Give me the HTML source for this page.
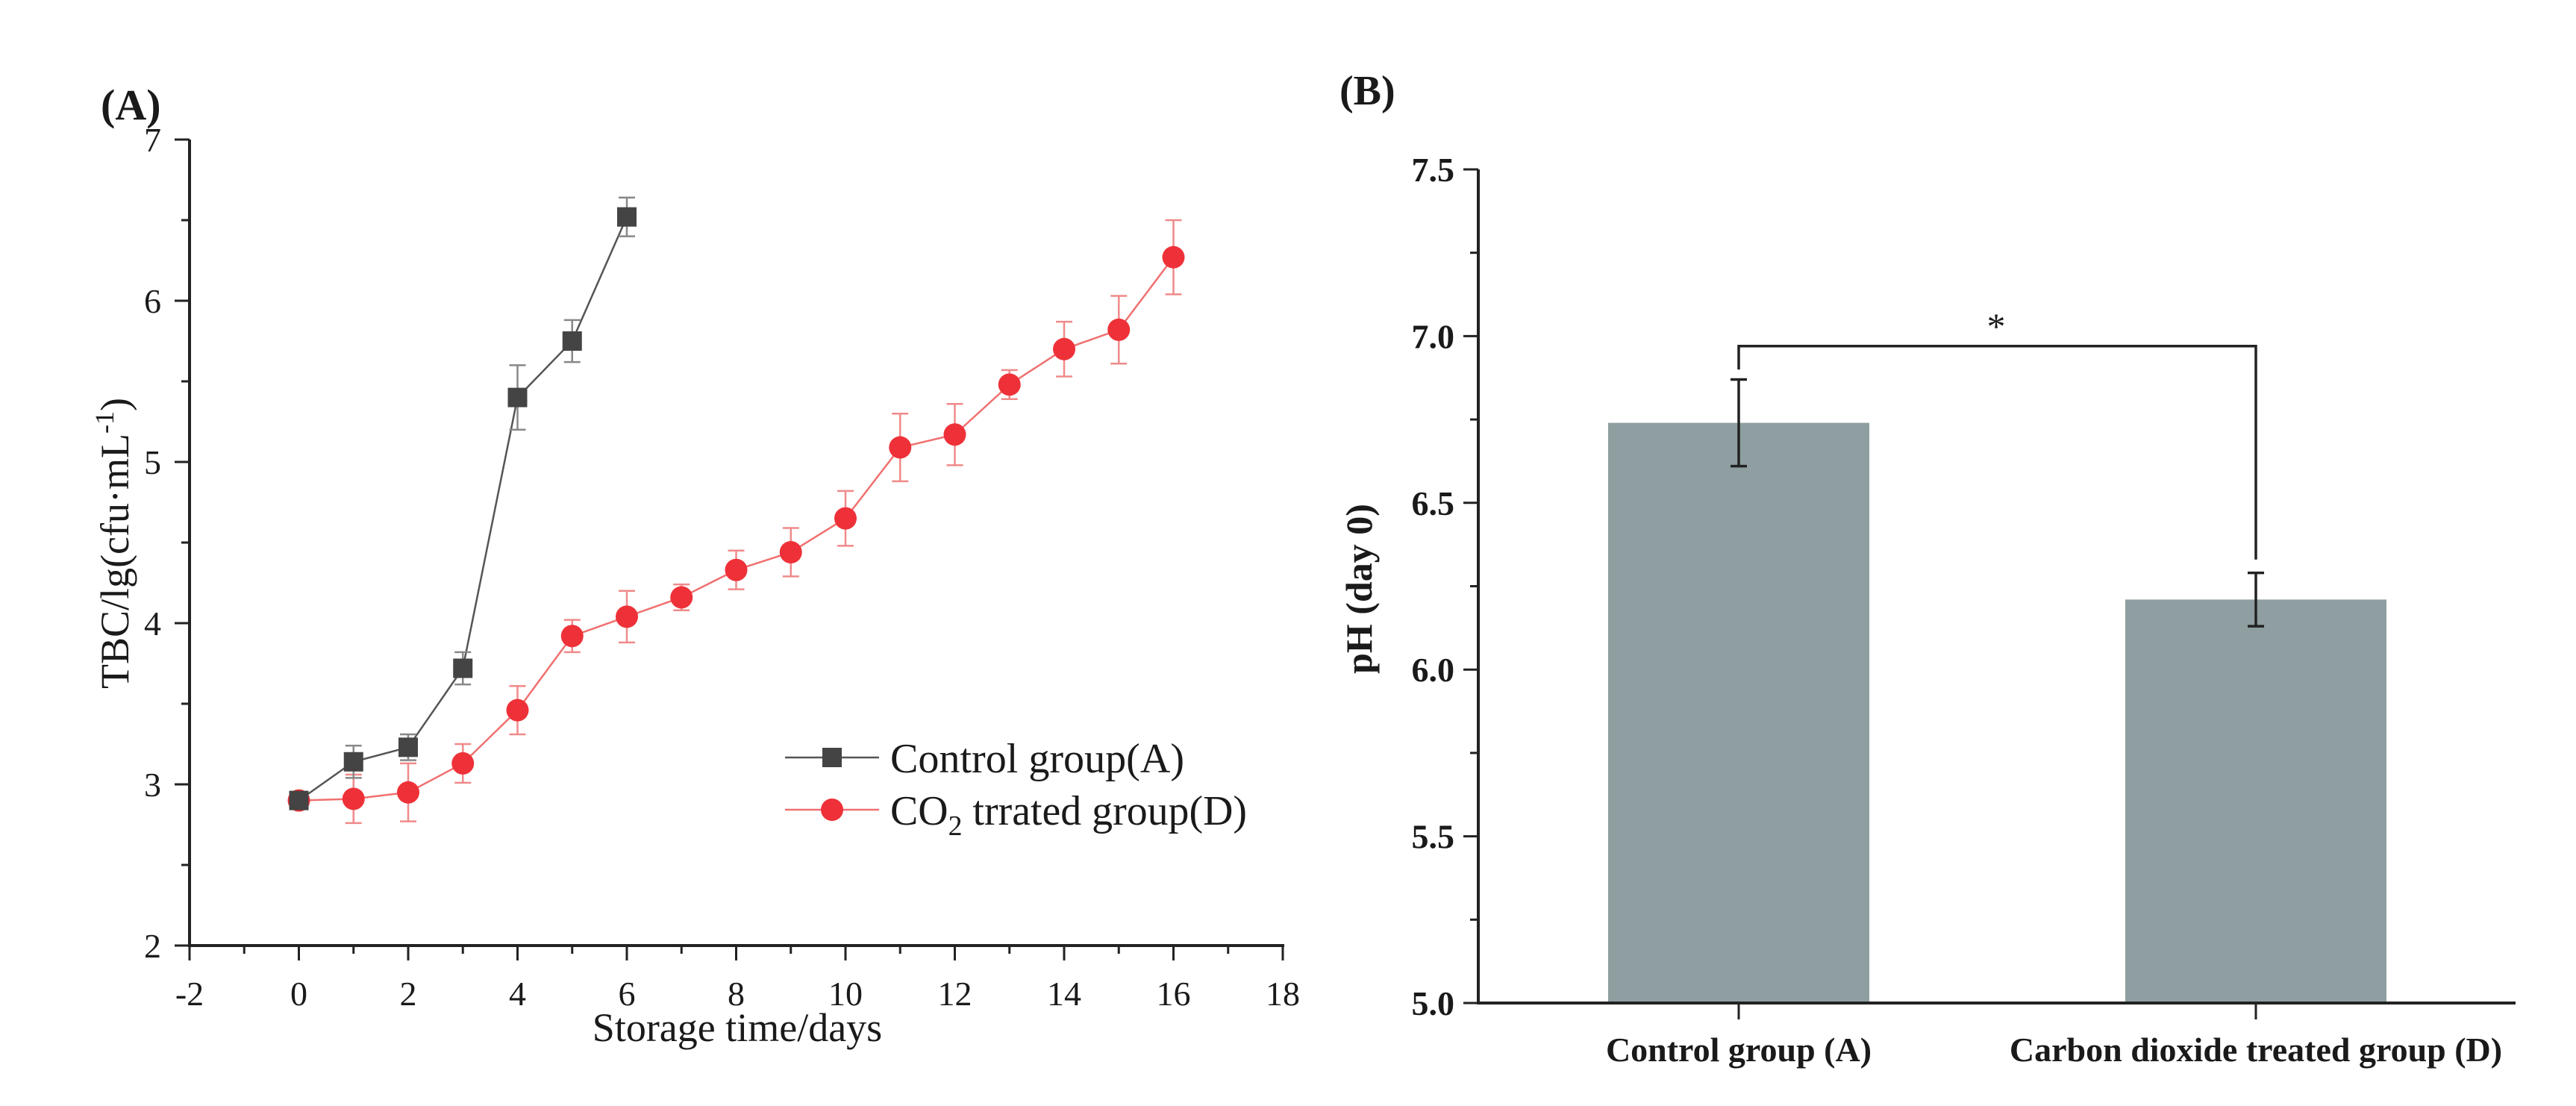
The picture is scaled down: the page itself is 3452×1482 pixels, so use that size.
<!DOCTYPE html>
<html><head><meta charset="utf-8">
<style>
html,body{margin:0;padding:0;background:#fff;}
svg{display:block;}
text{font-family:"Liberation Serif",serif;fill:#1a1a1a;}
</style></head>
<body>
<svg id="fig" width="3452" height="1482" viewBox="0 0 3452 1482" xmlns="http://www.w3.org/2000/svg">
<rect x="0" y="0" width="3452" height="1482" fill="#fff"/>
<g id="panelA"></g>
<g id="panelB"></g>
</svg>
<script>
// ---- Panel A data ----
const daysControl = [0,1,2,3,4,5,6];
const tbcControl = [2.9,3.14,3.23,3.72,5.4,5.75,6.52];
const errControl = [0.03,0.1,0.08,0.1,0.2,0.13,0.12];
const daysCO2 = [0,1,2,3,4,5,6,7,8,9,10,11,12,13,14,15,16];
const tbcCO2 = [2.9,2.91,2.95,3.13,3.46,3.92,4.04,4.16,4.33,4.44,4.65,5.09,5.17,5.48,5.70,5.82,6.27];
const errCO2 = [0.03,0.15,0.18,0.12,0.15,0.1,0.16,0.08,0.12,0.15,0.17,0.21,0.19,0.09,0.17,0.21,0.23];
const xTicksA = [-2,0,2,4,6,8,10,12,14,16,18];
const yTicksA = [2,3,4,5,6,7];
// ---- Panel B data ----
const groupsB = ["Control group (A)","Carbon dioxide treated group (D)"];
const phValues = [6.74,6.21];
const phErrors = [0.13,0.08];
const yTicksB = ["5.0","5.5","6.0","6.5","7.0","7.5"];

const NS="http://www.w3.org/2000/svg";
function mk(parent,tag,attrs,txt){const e=document.createElementNS(NS,tag);for(const k in attrs)e.setAttribute(k,attrs[k]);if(txt!==undefined)e.textContent=txt;parent.appendChild(e);return e;}

// ===== Panel A =====
const A=document.getElementById('panelA');
const ax0=254, ax1=1719, ay0=1267, ay1=187;
const xA=v=>ax0+(v-(-2))/20*(ax1-ax0);
const yA=v=>ay0-(v-2)/5*(ay0-ay1);
let e;
e=mk(A,'text',{x:135,y:160,'font-size':58,'font-weight':'bold','text-anchor':'start'},'(A)');


e=mk(A,'line',{x1:ax0,y1:ay0,x2:ax0,y2:ay1,stroke:'#222','stroke-width':4});


e=mk(A,'line',{x1:ax0-2,y1:ay0,x2:ax1+2,y2:ay0,stroke:'#222','stroke-width':4});


for(let v=-2;v<=18;v++){const maj=(v%2===0);mk(A,'line',{x1:xA(v),y1:ay0,x2:xA(v),y2:ay0+(maj?20:11),stroke:'#222','stroke-width':3});}
xTicksA.forEach(v=>{e=mk(A,'text',{x:xA(v),y:ay0+80,'font-size':46,'text-anchor':'middle'},String(v));

});
for(let v=2;v<=7.001;v+=0.5){const maj=Math.abs(v-Math.round(v))<0.01;mk(A,'line',{x1:ax0,y1:yA(v),x2:ax0-(maj?20:11),y2:yA(v),stroke:'#222','stroke-width':3});}
yTicksA.forEach(v=>{e=mk(A,'text',{x:ax0-38,y:yA(v)+16,'font-size':46,'text-anchor':'end'},String(v));

});
e=mk(A,'text',{x:988,y:1395,'font-size':54,'text-anchor':'middle'},'Storage time/days');


e=mk(A,'text',{x:0,y:0,'font-size':54,'text-anchor':'middle',transform:'translate(172,728) rotate(-90)'});


e.innerHTML='TBC/lg(cfu·mL<tspan dy="-20" font-size="36">-1</tspan><tspan dy="20">)</tspan>';

function series(xs,ys,es,lineCol,errCol,fill,shape,name){
  const g=mk(A,'g',{});
  
  
  const pts=xs.map((x,i)=>xA(x)+','+yA(ys[i])).join(' ');
  mk(g,'polyline',{points:pts,fill:'none',stroke:lineCol,'stroke-width':2.5});
  xs.forEach((x,i)=>{const cx=xA(x),t=yA(ys[i]+es[i]),b=yA(ys[i]-es[i]);
    mk(g,'path',{d:`M${cx},${t}V${b}M${cx-11},${t}H${cx+11}M${cx-11},${b}H${cx+11}`,stroke:errCol,'stroke-width':2.5,fill:'none'});});
  xs.forEach((x,i)=>{const cx=xA(x),cy=yA(ys[i]);let m;
    if(shape==='sq')m=mk(g,'rect',{x:cx-13,y:cy-13,width:26,height:26,fill:fill});
    else m=mk(g,'circle',{cx:cx,cy:cy,r:15,fill:fill});
    
    });
}
series(daysCO2,tbcCO2,errCO2,'#f07070','#f08a8a','#ee3138','ci','co2-series');
series(daysControl,tbcControl,errControl,'#555','#888','#444','sq','control-series');

// legend
const L=mk(A,'g',{});


mk(L,'line',{x1:1052,y1:1015,x2:1178,y2:1015,stroke:'#555','stroke-width':2.5});
mk(L,'rect',{x:1102,y:1002,width:26,height:26,fill:'#444'});
e=mk(L,'text',{x:1193,y:1035,'font-size':56,textLength:394,lengthAdjust:'spacingAndGlyphs'},'Control group(A)');


mk(L,'line',{x1:1052,y1:1085,x2:1178,y2:1085,stroke:'#f07070','stroke-width':2.5});
mk(L,'circle',{cx:1115,cy:1085,r:15,fill:'#ee3138'});
e=mk(L,'text',{x:1193,y:1105,'font-size':56,textLength:478,lengthAdjust:'spacingAndGlyphs'});


e.innerHTML='CO<tspan dy="14" font-size="38">2</tspan><tspan dy="-14"> trrated group(D)</tspan>';

// ===== Panel B =====
const B=document.getElementById('panelB');
const bx0=1981, bx1=3371, by0=1344, by1=227;
const yB=v=>by0-(v-5)/2.5*(by0-by1);
const centers=[2330,3023];
const bw=350;
e=mk(B,'text',{x:1795,y:140,'font-size':56,'font-weight':'bold'},'(B)');


phValues.forEach((v,i)=>{const r=mk(B,'rect',{x:centers[i]-bw/2,y:yB(v),width:bw,height:by0-yB(v),fill:'#8f9ea0'});


const t=yB(v+phErrors[i]),b=yB(v-phErrors[i]),cx=centers[i];
const eb=mk(B,'path',{d:`M${cx},${t}V${b}M${cx-11},${t}H${cx+11}M${cx-11},${b}H${cx+11}`,stroke:'#222','stroke-width':3.5,fill:'none'});

});
e=mk(B,'line',{x1:bx0,y1:by0,x2:bx0,y2:by1,stroke:'#222','stroke-width':4});


e=mk(B,'line',{x1:bx0-2,y1:by0,x2:bx1,y2:by0,stroke:'#222','stroke-width':4});


for(let k=0;k<=10;k++){const v=5+k*0.25,maj=k%2===0;mk(B,'line',{x1:bx0,y1:yB(v),x2:bx0-(maj?20:11),y2:yB(v),stroke:'#222','stroke-width':3});}
yTicksB.forEach(s=>{e=mk(B,'text',{x:bx0-32,y:yB(parseFloat(s))+16,'font-size':46,'font-weight':'bold','text-anchor':'end'},s);

});
groupsB.forEach((s,i)=>{mk(B,'line',{x1:centers[i],y1:by0,x2:centers[i],y2:by0+22,stroke:'#222','stroke-width':3});
e=mk(B,'text',{x:centers[i],y:1422,'font-size':46,'font-weight':'bold','text-anchor':'middle'},s);

});
e=mk(B,'text',{x:0,y:0,'font-size':50,'font-weight':'bold','text-anchor':'middle',transform:'translate(1838,789) rotate(-90)'},'pH (day 0)');


const bracketY=yB(6.97);
e=mk(B,'path',{d:`M${centers[0]},${yB(6.9)}V${bracketY}H${centers[1]}V${yB(6.33)}`,stroke:'#222','stroke-width':3.5,fill:'none'});


e=mk(B,'text',{x:2675,y:yB(7.01)+8,'font-size':50,'text-anchor':'middle'},'*');


</script>
</body></html>
